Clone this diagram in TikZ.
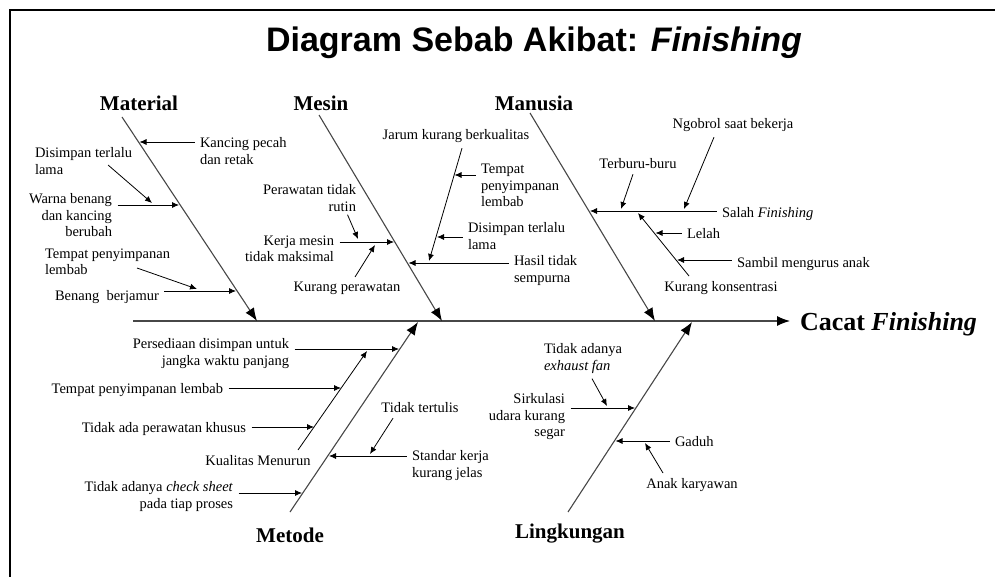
\documentclass[tikz,border=0pt]{standalone}
\usepackage{fontspec}
\setmainfont{Liberation Serif}
\newfontfamily\titlefont{Liberation Sans}
\usetikzlibrary{arrows.meta,positioning,calc}
\definecolor{BoneGray}{HTML}{474747}

\begin{document}
\begin{tikzpicture}[x=1pt,y=-1pt,
    bone/.style={draw=BoneGray,line width=1.1pt,-{Latex[length=13pt,width=10pt,black]}},
    twig/.style={draw=black,line width=0.8pt,-{Latex[length=7pt,width=6pt]}},
    cause/.style={font=\fontsize{14.5}{16.5}\selectfont,inner sep=3pt,outer sep=2.5pt},
    category/.style={font=\fontsize{21}{24}\selectfont\bfseries,inner sep=0pt,anchor=base}]

  \useasboundingbox (0,0) rectangle (995,577);
  \draw[line width=2pt] (10,577) -- (10,10) -- (995,10);

  \node[font=\titlefont\fontsize{34}{40}\selectfont\bfseries] (title) at (534,43)
    {Diagram Sebab Akibat: \textit{Finishing}};

  % spine and main bones
  \coordinate (spine) at (133,321);
  \node[font=\fontsize{26}{30}\selectfont\bfseries,anchor=base west,inner sep=0pt,outer sep=10pt]
    (effect) at (790,330) {Cacat \textit{Finishing}};
  \draw[bone] (spine) -- (spine -| effect.west);

  \node[category] (material) at (139,111) {Material};
  \node[category] (mesin) at (321,111) {Mesin};
  \node[category] (manusia) at (534,111) {Manusia};
  \node[category] (metode) at (290,542) {Metode};
  \node[category] (lingkungan) at (570,538) {Lingkungan};

  \coordinate (mat0) at (122,117); \coordinate (mat1) at (257,321);
  \coordinate (mes0) at (319,115); \coordinate (mes1) at (442,321);
  \coordinate (man0) at (530,113); \coordinate (man1) at (655,321);
  \coordinate (met0) at (290,512); \coordinate (met1) at (418,322);
  \coordinate (lin0) at (568,512); \coordinate (lin1) at (692,322);
  \foreach \b in {mat,mes,man,met,lin}
    \draw[bone] (\b0) -- (\b1);

  % Material
  \node[cause,anchor=north west,align=left] (kancing) at (194.5,132) {Kancing pecah\\dan retak};
  \node[cause,anchor=north west,align=left] (disimpanA) at (29.5,142) {Disimpan terlalu\\lama};
  \node[cause,anchor=north east,align=right] (warna) at (117.5,188) {Warna benang\\dan kancing\\berubah};
  \node[cause,anchor=north west,align=left] (tempatA) at (39.5,243) {Tempat penyimpanan\\lembab};
  \node[cause,anchor=north west] (jamur) at (49.5,285) {Benang\ \ berjamur};
  \coordinate (mK) at (139.5,142);
  \coordinate (mW) at (179,205);
  \coordinate (mD) at (152,203);
  \coordinate (mJ) at (236,291);
  \coordinate (mT) at (197,289);
  \draw[twig] (kancing.west |- mK) -- (mK);
  \draw[twig] (warna.east |- mW) -- (mW);
  \draw[twig] ([shift={(-29.5,23)}]disimpanA.north east) -- (mD);
  \draw[twig] (jamur.east |- mJ) -- (mJ);
  \draw[twig] ([shift={(97.5,25)}]tempatA.north west) -- (mT);

  % Mesin
  \node[cause,anchor=north east,align=right] (rawat) at (361.5,179) {Perawatan tidak\\rutin};
  \node[cause,anchor=north east,align=right] (kerja) at (339.5,230) {Kerja mesin\\tidak maksimal};
  \node[cause,anchor=north] (kurang) at (347,277) {Kurang perawatan};
  \node[cause,anchor=north] (jarum) at (456,124) {Jarum kurang berkualitas};
  \node[cause,anchor=north west,align=left] (tempatB) at (475.5,159) {Tempat\\penyimpanan\\lembab};
  \node[cause,anchor=north west,align=left] (disimpanB) at (462.5,217) {Disimpan terlalu\\lama};
  \node[cause,anchor=north west,align=left] (hasil) at (508.5,250) {Hasil tidak\\sempurna};
  \coordinate (mKm) at (394,242);
  \coordinate (mR) at (358,239);
  \coordinate (mKp) at (375,245);
  \coordinate (mH) at (408.5,263);
  \coordinate (mJr) at (429,261);
  \coordinate (mTb) at (454.5,175);
  \coordinate (mDb) at (437,237);
  \draw[twig] (kerja.east |- mKm) -- (mKm);
  \draw[twig] ([shift={(-14,-2)}]rawat.south east) -- (mR);
  \draw[twig] ([xshift=8pt]kurang.north) -- (mKp);
  \draw[twig] (hasil.west |- mH) -- (mH);
  \draw[twig] ([xshift=6pt]jarum.south) -- (mJr);
  \draw[twig] (tempatB.west |- mTb) -- (mTb);
  \draw[twig] (disimpanB.west |- mDb) -- (mDb);

  % Manusia
  \node[cause,anchor=north] (ngobrol) at (733,113) {Ngobrol saat bekerja};
  \node[cause,anchor=north] (terburu) at (638,153) {Terburu-buru};
  \node[cause,anchor=north west] (salah) at (716.5,202) {Salah \textit{Finishing}};
  \node[cause,anchor=north west] (lelah) at (681.5,223) {Lelah};
  \node[cause,anchor=north west] (sambil) at (731.5,252) {Sambil mengurus anak};
  \node[cause,anchor=north] (konsen) at (721,276) {Kurang konsentrasi};
  \coordinate (mS) at (590,211);
  \coordinate (mTr) at (621,209);
  \coordinate (mN) at (684,209);
  \coordinate (mKs) at (638,213);
  \coordinate (mL) at (655.5,233);
  \coordinate (mSm) at (677,260);
  \draw[twig] (salah.west |- mS) -- (mS);
  \draw[twig] ([xshift=-5pt]terburu.south) -- (mTr);
  \draw[twig] ([xshift=-19pt]ngobrol.south) -- (mN);
  \draw[twig] ([xshift=-32pt]konsen.north) -- (mKs);
  \draw[twig] (lelah.west |- mL) -- (mL);
  \draw[twig] (sambil.west |- mSm) -- (mSm);

  % Metode
  \node[cause,anchor=north east,align=right] (sedia) at (294.5,333) {Persediaan disimpan untuk\\jangka waktu panjang};
  \node[cause,anchor=north east] (tempatC) at (228.5,378) {Tempat penyimpanan lembab};
  \node[cause,anchor=north east] (khusus) at (251.5,417) {Tidak ada perawatan khusus};
  \node[cause,anchor=north] (kualitas) at (258,450) {Kualitas Menurun};
  \node[cause,anchor=north east,align=right] (cek) at (238.5,476) {Tidak adanya \textit{check sheet}\\pada tiap proses};
  \node[cause,anchor=north] (tertulis) at (420,397) {Tidak tertulis};
  \node[cause,anchor=north west,align=left] (standar) at (406.5,445) {Standar kerja\\kurang jelas};
  \coordinate (mP) at (399,349);
  \coordinate (mKq) at (367,351);
  \coordinate (mTc) at (341,388);
  \coordinate (mKh) at (314,427);
  \coordinate (mSk) at (329,456);
  \coordinate (mTt) at (370,454);
  \coordinate (mC) at (302,493);
  \draw[twig] (sedia.east |- mP) -- (mP);
  \draw[twig] ([xshift=40pt]kualitas.north) -- (mKq);
  \draw[twig] (tempatC.east |- mTc) -- (mTc);
  \draw[twig] (khusus.east |- mKh) -- (mKh);
  \draw[twig] (standar.west |- mSk) -- (mSk);
  \draw[twig] ([xshift=-27pt]tertulis.south) -- (mTt);
  \draw[twig] (cek.east |- mC) -- (mC);

  % Lingkungan
  \node[cause,anchor=north west,align=left] (exhaust) at (538.5,338) {Tidak adanya\\\textit{exhaust fan}};
  \node[cause,anchor=north east,align=right] (sirkulasi) at (570.5,388) {Sirkulasi\\udara kurang\\segar};
  \node[cause,anchor=north west] (gaduh) at (669.5,431) {Gaduh};
  \node[cause,anchor=north] (anak) at (692,473) {Anak karyawan};
  \coordinate (mSi) at (635,408);
  \coordinate (mEf) at (607,406);
  \coordinate (mG) at (615.5,441);
  \coordinate (mAk) at (645,443);
  \draw[twig] (sirkulasi.east |- mSi) -- (mSi);
  \draw[twig] ([xshift=9pt]exhaust.south) -- (mEf);
  \draw[twig] (gaduh.west |- mG) -- (mG);
  \draw[twig] ([xshift=-29pt]anak.north) -- (mAk);
\end{tikzpicture}
\end{document}
